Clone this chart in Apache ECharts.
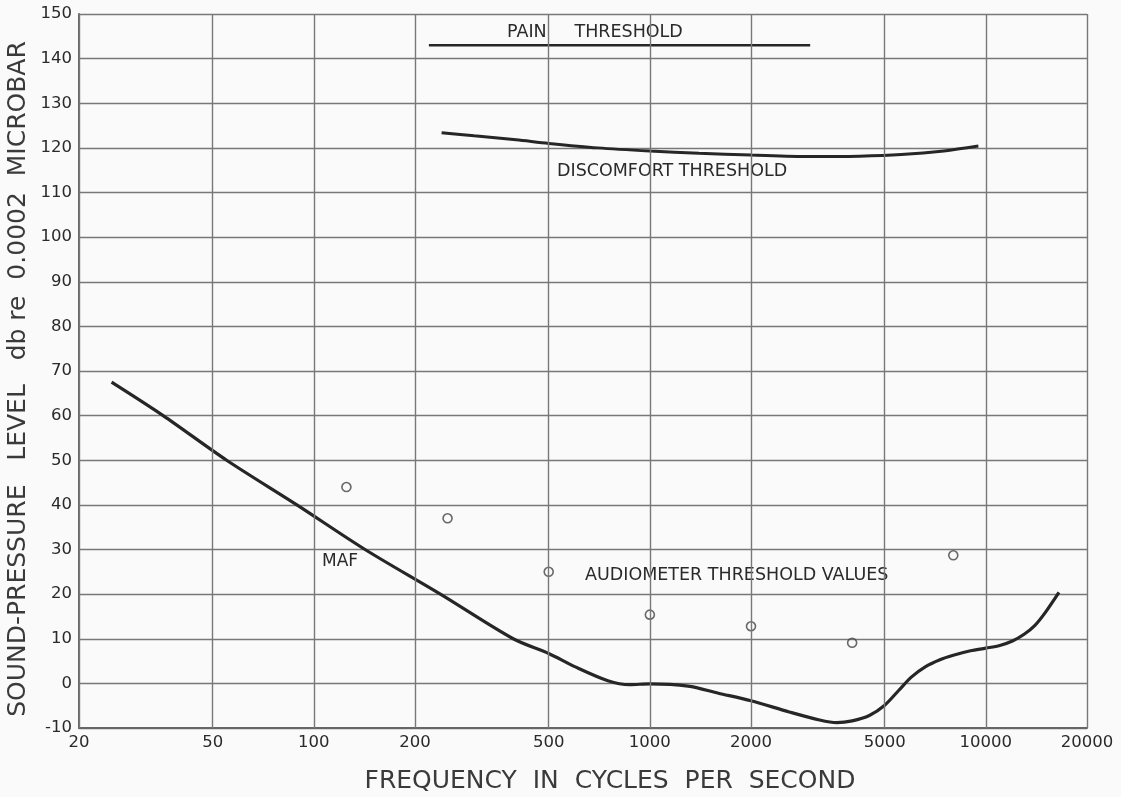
<!DOCTYPE html>
<html>
<head>
<meta charset="utf-8">
<script src="https://cdn.jsdelivr.net/npm/echarts@6/dist/echarts.min.js"></script>
<style>
  html, body { margin: 0; padding: 0; background: #fafafa; }
  #chart { width: 1121px; height: 797px; }
</style>
</head>
<body>
<div id="chart"></div>
<script>
// Frequency ticks (Hz) for the log axis
const freqTicks = [20, 50, 100, 200, 500, 1000, 2000, 5000, 10000, 20000];

// MAF curve [frequency Hz, dB]
const mafFreq = [25, 35.6, 55, 89, 142, 238, 392, 500, 600, 750, 870, 1000, 1300, 1600, 2000, 2600, 3200, 3600, 4000, 4500, 5000, 5500, 6000, 6600, 7300, 8000, 9000, 10000, 11000, 12000, 13000, 14000, 15000, 16500];
const mafDb   = [67.5, 60, 50, 40, 30, 20, 10, 6.7, 3.7, 0.6, -0.3, -0.1, -0.6, -2.2, -3.9, -6.4, -8.2, -8.8, -8.4, -7.2, -4.9, -1.6, 1.4, 3.7, 5.3, 6.3, 7.3, 7.9, 8.5, 9.5, 11.0, 13.0, 15.8, 20.4];

// Discomfort threshold
const discFreq = [240, 300, 400, 500, 700, 1000, 1400, 2000, 3000, 4200, 5600, 7500, 9500];
const discDb   = [123.4, 122.7, 121.8, 121.0, 120.0, 119.3, 118.8, 118.4, 118.05, 118.15, 118.5, 119.3, 120.4];

// Pain threshold
const painFreq = [220, 3000];
const painDb   = [143, 143];

// Audiometer threshold values
const audFreq = [125, 250, 500, 1000, 2000, 4000, 8000];
const audDb   = [44, 37, 25, 15.4, 12.8, 9.1, 28.7];

const zip = (a, b) => a.map((v, i) => [v, b[i]]);

const chart = echarts.init(document.getElementById('chart'), null, { renderer: 'canvas' });
const FONT = '"DejaVu Sans", "Liberation Sans", sans-serif';
const gridColor = '#787878';
const inkColor = '#262626';

const option = {
  backgroundColor: '#fafafa',
  animation: false,
  grid: { left: 79, right: 34, top: 14, bottom: 69, containLabel: false },
  xAxis: {
    type: 'log', logBase: 10, min: 20, max: 20000,
    axisLine: { show: true, onZero: false, lineStyle: { color: '#666', width: 2 } },
    axisTick: { show: false },
    axisLabel: { show: false },
    splitLine: { show: false }
  },
  yAxis: {
    type: 'value', min: -10, max: 150, interval: 10,
    axisLine: { show: true, onZero: false, lineStyle: { color: '#666', width: 2 } },
    axisTick: { show: false },
    axisLabel: { color: '#2a2a2a', fontSize: 16.5, fontFamily: FONT, margin: 7 },
    splitLine: { show: true, lineStyle: { color: gridColor, width: 1.4 } }
  },
  series: [
    {
      type: 'line', name: 'grid', data: [], silent: true,
      markLine: {
        silent: true, symbol: 'none', animation: false,
        lineStyle: { color: gridColor, width: 1.4, type: 'solid' },
        label: {
          show: true, position: 'start', distance: 6,
          color: '#2a2a2a', fontSize: 16.5, fontFamily: FONT,
          formatter: p => String(p.value)
        },
        emphasis: { disabled: true },
        data: freqTicks.map(f => ({ xAxis: f }))
      }
    },
    {
      type: 'line', name: 'MAF', data: zip(mafFreq, mafDb), smooth: 0.3,
      showSymbol: false, symbol: 'none', silent: true,
      lineStyle: { color: inkColor, width: 3.2 }
    },
    {
      type: 'line', name: 'Discomfort', data: zip(discFreq, discDb), smooth: 0.3,
      showSymbol: false, symbol: 'none', silent: true,
      lineStyle: { color: inkColor, width: 3 }
    },
    {
      type: 'line', name: 'Pain', data: zip(painFreq, painDb),
      showSymbol: false, symbol: 'none', silent: true,
      lineStyle: { color: inkColor, width: 2.6 }
    },
    {
      type: 'scatter', name: 'Audiometer', data: zip(audFreq, audDb),
      symbol: 'circle', symbolSize: 9, silent: true,
      itemStyle: { color: 'rgba(0,0,0,0)', borderColor: '#444', borderWidth: 1.6 }
    }
  ],
  graphic: [
    { type: 'text', silent: true, x: 507, y: 32, style: { text: 'PAIN     THRESHOLD', font: '17.5px ' + FONT, fill: '#2a2a2a', textAlign: 'left', textVerticalAlign: 'middle' } },
    { type: 'text', silent: true, x: 557, y: 171, style: { text: 'DISCOMFORT THRESHOLD', font: '17.5px ' + FONT, fill: '#2a2a2a', textAlign: 'left', textVerticalAlign: 'middle' } },
    { type: 'text', silent: true, x: 322, y: 562, style: { text: 'MAF', font: '17px ' + FONT, fill: '#2a2a2a', textAlign: 'left', textVerticalAlign: 'middle' } },
    { type: 'text', silent: true, x: 585, y: 575, style: { text: 'AUDIOMETER THRESHOLD VALUES', font: '17.5px ' + FONT, fill: '#2a2a2a', textAlign: 'left', textVerticalAlign: 'middle' } },
    { type: 'text', silent: true, x: 610, y: 781, style: { text: 'FREQUENCY  IN  CYCLES  PER  SECOND', font: '25px ' + FONT, fill: '#3a3a3a', textAlign: 'center', textVerticalAlign: 'middle' } },
    { type: 'text', silent: true, x: 18, y: 379, rotation: Math.PI / 2, style: { text: 'SOUND-PRESSURE   LEVEL   db re  0.0002  MICROBAR', font: '25px ' + FONT, fill: '#3a3a3a', textAlign: 'center', textVerticalAlign: 'middle' } }
  ]
};
chart.setOption(option);
</script>
</body>
</html>
